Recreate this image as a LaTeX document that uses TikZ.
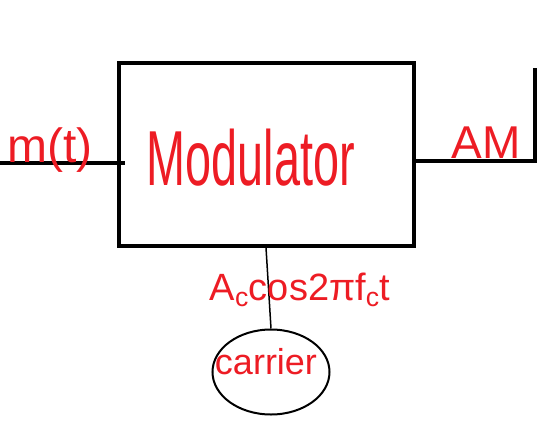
\documentclass[tikz,border=0pt]{standalone}
\usepackage{fontspec}
\setmainfont{Liberation Sans}
\usepackage{tikz}
\usetikzlibrary{calc}
\usetikzlibrary{shapes.geometric}

\definecolor{pen}{RGB}{237,28,36}

\begin{document}
\begin{tikzpicture}[x=1pt, y=-1pt,
    box/.style={draw, line width=4pt, minimum width=295pt, minimum height=183pt, inner sep=0pt},
    wire/.style={line width=3.5pt},
    thin/.style={line width=1.5pt},
    src/.style={draw, ellipse, line width=2pt, minimum width=117pt, minimum height=85pt, inner sep=0pt},
    lbl/.style={text=pen, inner sep=0pt}]
  \useasboundingbox (0,0) rectangle (558,437);
  % modulator block
  \node[box] (mod) at (266,154) {};
  \node[lbl, font=\fontsize{78}{78}\selectfont, xscale=0.6] (modtxt) at (251,158) {Modulator};
  % carrier source
  \node[src] (carrier) at (271,372) {};
  \node[lbl, font=\fontsize{36}{36}\selectfont] (carrtag) at (266,362) {carrier};
  % in and out
  \coordinate (in) at (0,163);
  \coordinate (out) at (535,161);
  \coordinate (outtop) at (535,68);
  \draw[wire] (in) -- ([xshift=8pt]in -| mod.west);
  \draw[wire] (out -| mod.east) -- (out) -- (outtop);
  \draw[thin] (mod.south) -- (carrier.north);
  % labels
  \node[lbl, font=\fontsize{48}{48}\selectfont] (msg) at (50,150) {m(t)};
  \node[lbl, font=\fontsize{46}{46}\selectfont] (am) at (486,143) {AM};
  \node[lbl, font=\fontsize{38}{38}\selectfont] (carrtxt) at (300,290) {A\textsubscript{c}cos2πf\textsubscript{c}t};
\end{tikzpicture}
\end{document}
